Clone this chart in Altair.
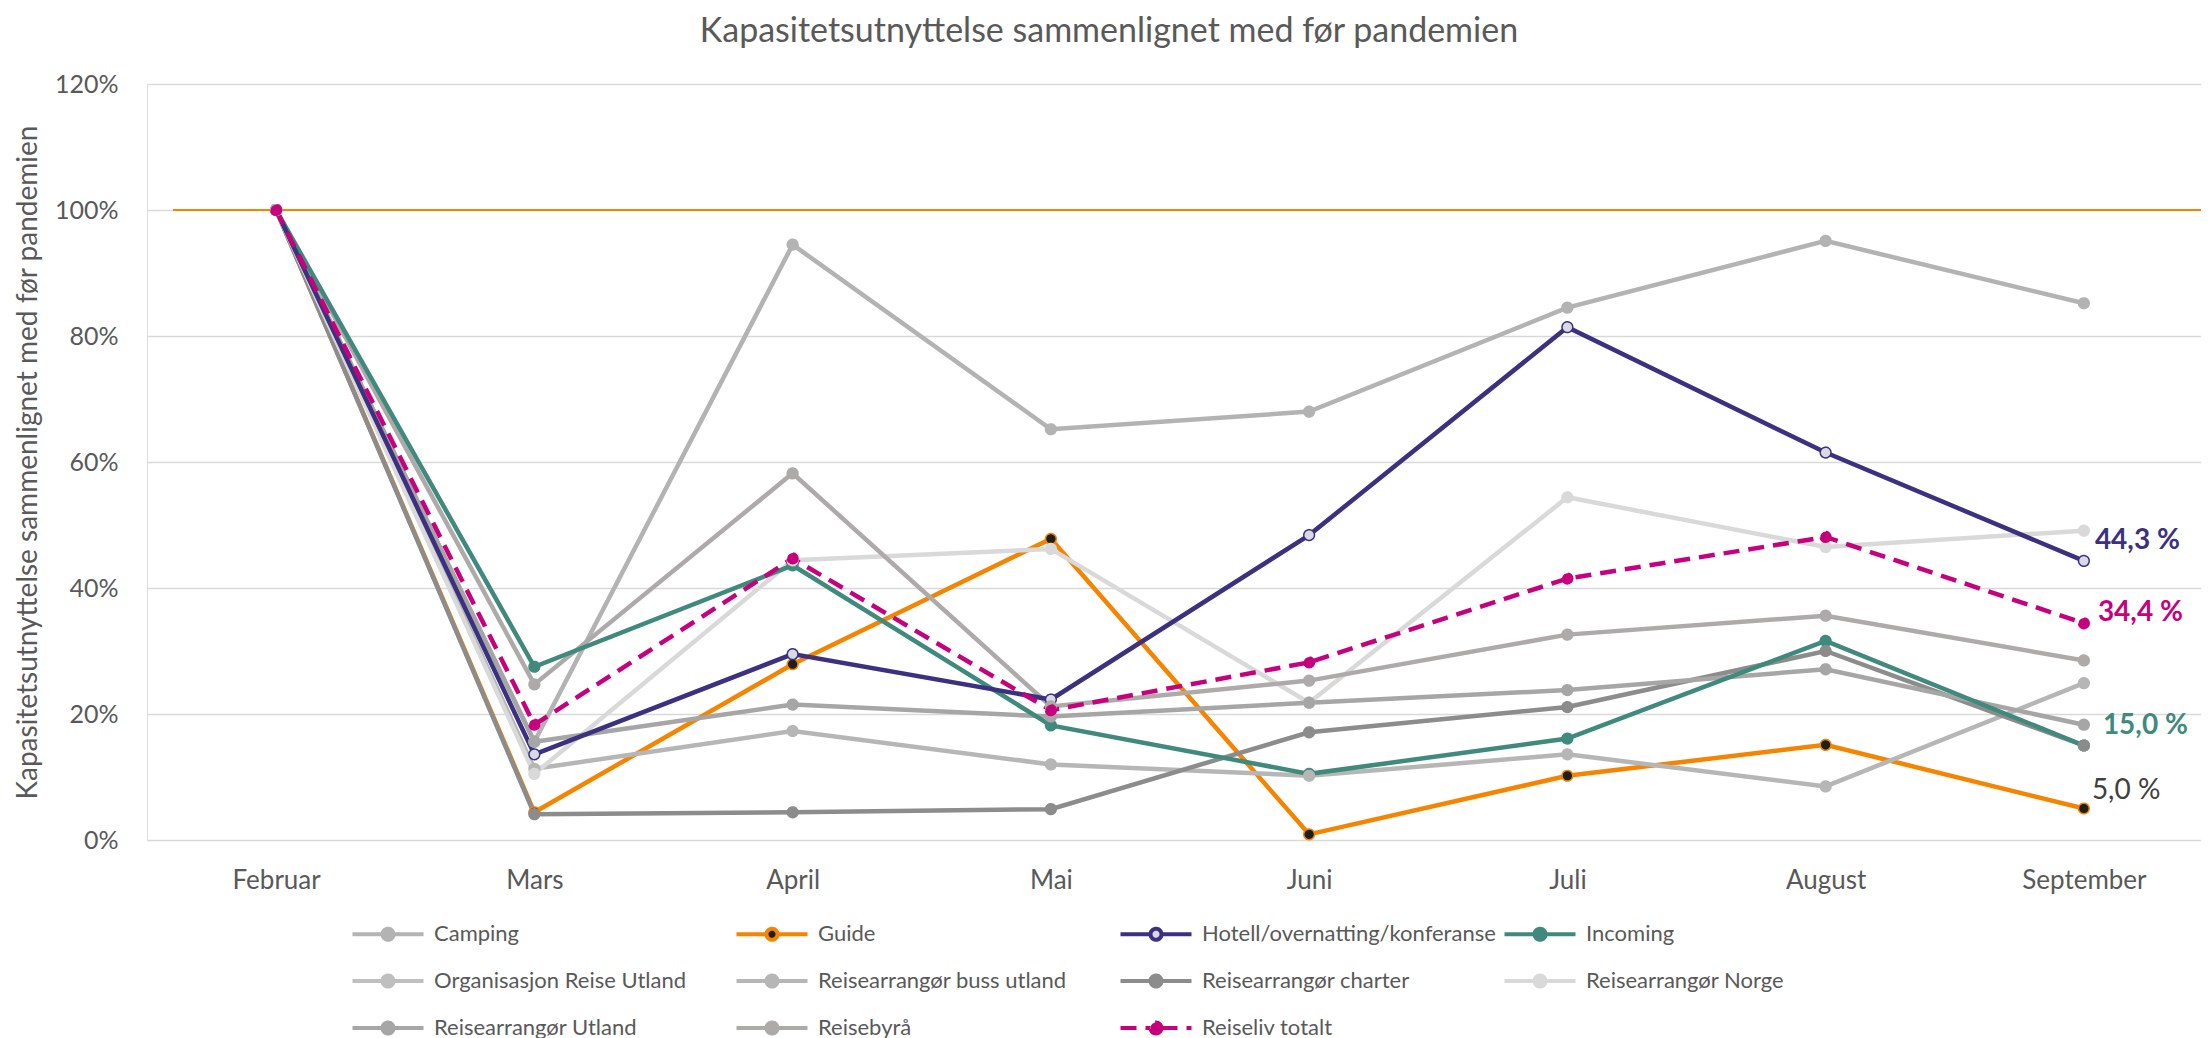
import altair as alt
import pandas as pd

# ---------------- data ----------------
months = ["Februar", "Mars", "April", "Mai", "Juni", "Juli", "August", "September"]

series = [
    "Camping",
    "Guide",
    "Hotell/overnatting/konferanse",
    "Incoming",
    "Organisasjon Reise Utland",
    "Reisearrangør buss utland",
    "Reisearrangør charter",
    "Reisearrangør Norge",
    "Reisearrangør Utland",
    "Reisebyrå",
    "Reiseliv totalt",
]

camping = [100, 15.6, 94.5, 65.2, 68.0, 84.5, 95.1, 85.2]
guide = [100, 4.4, 27.9, 47.8, 0.9, 10.2, 15.1, 5.0]
hotell = [100, 13.6, 29.5, 22.3, 48.4, 81.4, 61.5, 44.3]
incoming = [100, 27.5, 43.6, 18.2, 10.5, 16.1, 31.6, 15.0]
org_reise_utland = [100, None, None, None, None, None, None, None]
buss_utland = [100, 11.3, 17.3, 12.0, 10.2, 13.6, 8.5, 24.9]
charter = [100, 4.1, 4.4, 4.9, 17.1, 21.1, 30.0, 15.0]
norge = [100, 10.5, 44.4, 46.2, 21.8, 54.4, 46.5, 49.1]
utland = [100, 15.6, 21.5, 19.6, 21.8, 23.8, 27.1, 18.3]
reisebyra = [100, 24.7, 58.2, 21.2, 25.3, 32.6, 35.6, 28.5]
totalt = [100, 18.3, 44.7, 20.6, 28.2, 41.5, 48.1, 34.4]

values = [camping, guide, hotell, incoming, org_reise_utland, buss_utland,
          charter, norge, utland, reisebyra, totalt]

reference_level = [100]

label_series = ["Hotell/overnatting/konferanse", "Reiseliv totalt", "Incoming", "Guide"]
label_texts = ["44,3 %", "34,4 %", "15,0 %", "5,0 %"]

y_ticks = [0, 20, 40, 60, 80, 100, 120]

# ---------------- styles ----------------
line_color = {
    "Camping": "#b3b3b3",
    "Guide": "#f58400",
    "Hotell/overnatting/konferanse": "#3b3180",
    "Incoming": "#3f8a7d",
    "Organisasjon Reise Utland": "#bfbfbf",
    "Reisearrangør buss utland": "#b6b6b6",
    "Reisearrangør charter": "#8c8c8c",
    "Reisearrangør Norge": "#d9d9d9",
    "Reisearrangør Utland": "#a6a6a6",
    "Reisebyrå": "#aeaaaa",
    "Reiseliv totalt": "#c7007d",
}
marker_fill = dict(line_color)
marker_fill["Hotell/overnatting/konferanse"] = "#d9d9e3"
marker_fill["Guide"] = "#1e1e1e"

dash_of = {s: [1, 0] for s in series}
dash_of["Reiseliv totalt"] = [16, 9]

label_style = {
    "Hotell/overnatting/konferanse": dict(color="#3b3180", weight="bold", dx=11, dy=-20),
    "Reiseliv totalt": dict(color="#c7007d", weight="bold", dx=14, dy=-10),
    "Incoming": dict(color="#3f8a7d", weight="bold", dx=19, dy=-20),
    "Guide": dict(color="#404040", weight="normal", dx=8, dy=-18),
}

FONT = "Lato"
TXT = "#595959"
W, H = 2054, 756
XRANGE = 2066

# ---------------- tables ----------------
rows = []
for s, vals in zip(series, values):
    for m, v in zip(months, vals):
        rows.append({"series": s, "month": m,
                     "value": (v / 100.0) if v is not None else None})
df = pd.DataFrame(rows)

x_enc = alt.X("month:N", sort=months,
              scale=alt.Scale(domain=months, range=[0, XRANGE], padding=0.5),
              axis=alt.Axis(title=None, labelFontSize=26, labelColor=TXT, labelFont=FONT,
                            labelAngle=0, labelPadding=27, domain=False, ticks=False, grid=False))
y_enc = alt.Y("value:Q",
              scale=alt.Scale(domain=[0, 1.2], nice=False),
              axis=alt.Axis(title="Kapasitetsutnyttelse sammenlignet med før pandemien",
                            values=[t / 100 for t in y_ticks], format=".0%",
                            labelFontSize=25, labelColor=TXT, labelFont=FONT, labelPadding=29,
                            domain=False, ticks=False, grid=True, gridColor="#d9d9d9",
                            gridWidth=1.5, titleFont=FONT, titleFontSize=28,
                            titleFontWeight="normal", titleColor=TXT,
                            titleX=-119, titleY=H / 2, titleAlign="center",
                            titleBaseline="middle", titleAngle=270))

base = alt.Chart(df)

ref_rule = alt.Chart(pd.DataFrame({"value": [v / 100 for v in reference_level]})).mark_rule(
    color="#f58400", strokeWidth=2
).encode(y=y_enc, x=alt.value(26), x2=alt.value(W))

draw_order = [
    "Camping", "Guide", "Organisasjon Reise Utland", "Reisearrangør buss utland",
    "Reisearrangør charter", "Reisearrangør Norge", "Reisearrangør Utland",
    "Reisebyrå", "Incoming", "Hotell/overnatting/konferanse", "Reiseliv totalt",
]

line_layers = []
for s in draw_order:
    kw = dict(color=line_color[s], strokeWidth=4.5)
    if s == "Reiseliv totalt":
        kw["strokeDash"] = dash_of[s]
    line_layers.append(
        base.transform_filter(alt.FieldEqualPredicate(field="series", equal=s))
        .mark_line(**kw)
        .encode(x=x_enc, y=y_enc)
    )

# legend symbol: a 71px line with a marker in the middle (unit = 10px)
legend_path = ("M-3.55,0 L-0.55,0 M0.55,0 L3.55,0 "
               "M0.55,0 A0.55,0.55 0 1,1 -0.55,0 A0.55,0.55 0 1,1 0.55,0 Z")
leg = alt.Legend(title=None, orient="none", legendX=229, legendY=838, columns=4,
                 direction="horizontal",
                 symbolType=legend_path, symbolSize=400, symbolStrokeWidth=4,
                 labelFontSize=22, labelFont=FONT, labelColor=TXT, labelOffset=34,
                 columnPadding=0, rowPadding=19, gridAlign="all", labelLimit=500,
                 symbolOpacity=1)

points = base.transform_filter("isValid(datum.value)").mark_circle(
    size=115, strokeWidth=1.5, opacity=1
).encode(
    x=x_enc, y=y_enc,
    fill=alt.Fill("series:N", scale=alt.Scale(domain=series,
                                              range=[marker_fill[s] for s in series]),
                  legend=leg),
    stroke=alt.Stroke("series:N", scale=alt.Scale(domain=series,
                                                  range=[line_color[s] for s in series]),
                      legend=leg),
    strokeDash=alt.StrokeDash("series:N", scale=alt.Scale(domain=series,
                                                          range=[dash_of[s] for s in series]),
                              legend=leg),
)

label_layers = []
for s, t in zip(label_series, label_texts):
    st = label_style[s]
    last = values[series.index(s)][-1] / 100.0
    ldf = pd.DataFrame({"month": [months[-1]], "value": [last], "text": [t]})
    label_layers.append(
        alt.Chart(ldf).mark_text(align="left", baseline="middle", dx=st["dx"], dy=st["dy"],
                                 fontSize=28, font=FONT, fontWeight=st["weight"],
                                 color=st["color"])
        .encode(x=x_enc, y=y_enc, text="text:N")
    )

chart = alt.layer(ref_rule, *line_layers, points, *label_layers).properties(
    width=W, height=H,
    title=alt.TitleParams("Kapasitetsutnyttelse sammenlignet med før pandemien",
                          fontSize=34, font=FONT, fontWeight="normal", color=TXT,
                          anchor="middle", dx=-65, offset=23),
    autosize=alt.AutoSizeParams(type="none"),
    padding={"left": 139, "top": 76, "right": 0, "bottom": 200},
).configure_view(stroke=None).configure(background="white")

chart.save("out.html", embed_options={"renderer": "svg", "actions": False})
